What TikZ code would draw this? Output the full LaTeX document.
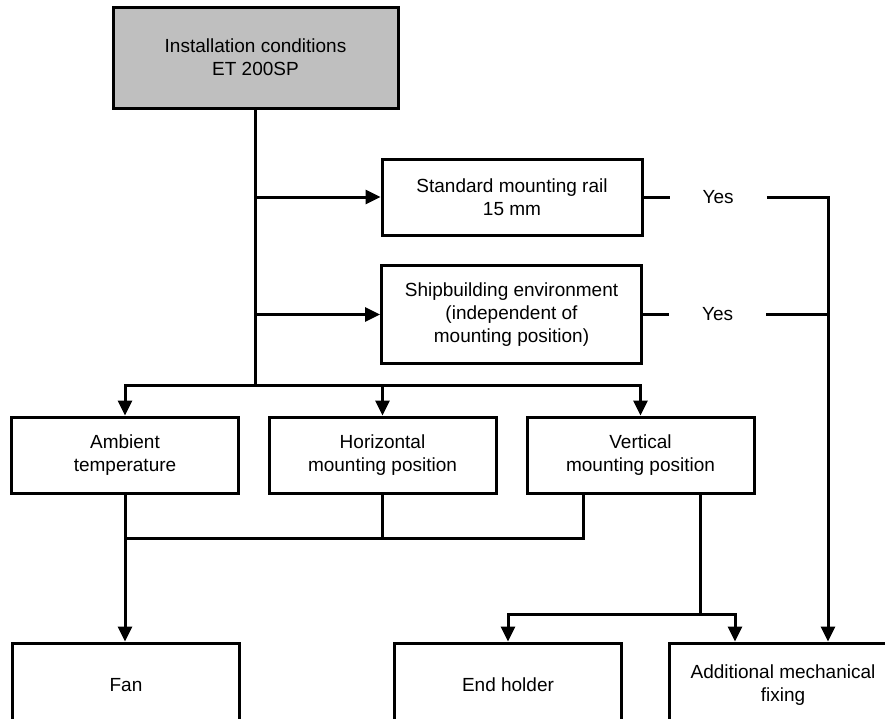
\documentclass[tikz,border=0pt]{standalone}
\usepackage{fontspec}
\setmainfont{Liberation Sans}
\usetikzlibrary{positioning, arrows.meta, calc}

\begin{document}
\begin{tikzpicture}[x=1pt, y=-1pt,
        box/.style={draw, line width=3pt, minimum width=227pt, minimum height=76pt, align=center, inner sep=4pt, font=\fontsize{19}{23}\selectfont},
        head/.style={box, fill=black!25, minimum width=285pt, minimum height=101pt},
        cond/.style={box, minimum width=260pt},
        yes/.style={minimum width=97pt, inner sep=0pt, font=\fontsize{19}{23}\selectfont},
        ln/.style={line width=3pt},
        arr/.style={ln, -{Triangle[length=15pt, width=14pt]}},
    ]
    \useasboundingbox (0,0) rectangle (885,718);
    \clip (0,0) rectangle (885,718);

    % Boxes:
    \node[head] (inst) at (255.5,57.5) {Installation conditions\\ET 200SP};
    \node[cond] (rail) at (512,197) {Standard mounting rail\\15 mm};
    \node[cond, minimum height=98pt] (ship) at (511.5,314.5) {Shipbuilding environment\\(independent of\\mounting position)};
    \node[box] (amb)  at (125,455) {Ambient\\temperature};
    \node[box] (hor)  at (382.5,455) {Horizontal\\mounting position};
    \node[box] (vert) at (640.5,455) {Vertical\\mounting position};
    \node[box, minimum height=84pt] (fan)  at (126,685) {Fan};
    \node[box, minimum height=84pt] (endh) at (508,685) {End holder};
    \node[box, minimum height=84pt] (addf) at (783,685) {Additional mechanical\\fixing};

    % Yes labels and the right-hand collector line:
    \node[yes, right=26pt of rail] (yes1) {Yes};
    \node[yes, right=26pt of ship] (yes2) {Yes};
    \coordinate (rt) at (828,0);

    % Trunk from the top box with branches:
    \coordinate (split) at (255.5,385);
    \draw[ln] (inst.south) -- (split);
    \draw[arr] (inst.south |- rail.west) -- (rail.west);
    \draw[arr] (inst.south |- ship.west) -- (ship.west);
    \draw[arr] (split) -| (amb.north);
    \draw[arr] (split) -| (vert.north);
    \draw[arr] (hor.north |- split) -- (hor.north);

    % Yes branches to the additional fixing:
    \draw[ln] (rail.east) -- (yes1.west);
    \draw[ln] (ship.east) -- (yes2.west);
    \draw[arr] (yes1.east) -| (rt |- addf.north);
    \draw[ln] (yes2.east) -- (rt |- yes2.east);

    % Lower part:
    \path (amb.south) ++(0,44) coordinate (merge);
    \draw[arr] (amb.south) -- (amb.south |- fan.north);
    \draw[ln] (hor.south) -- (hor.south |- merge);
    \draw[ln] ($(vert.south)+(-57.5,0)$) |- (merge);
    \draw[ln] ($(vert.south)+(59.5,0)$) -- ++(0,120) coordinate (fork);
    \draw[arr] (fork) -| (endh.north);
    \draw[arr] (fork) -| ($(addf.north)+(-48,0)$);
\end{tikzpicture}
\end{document}
